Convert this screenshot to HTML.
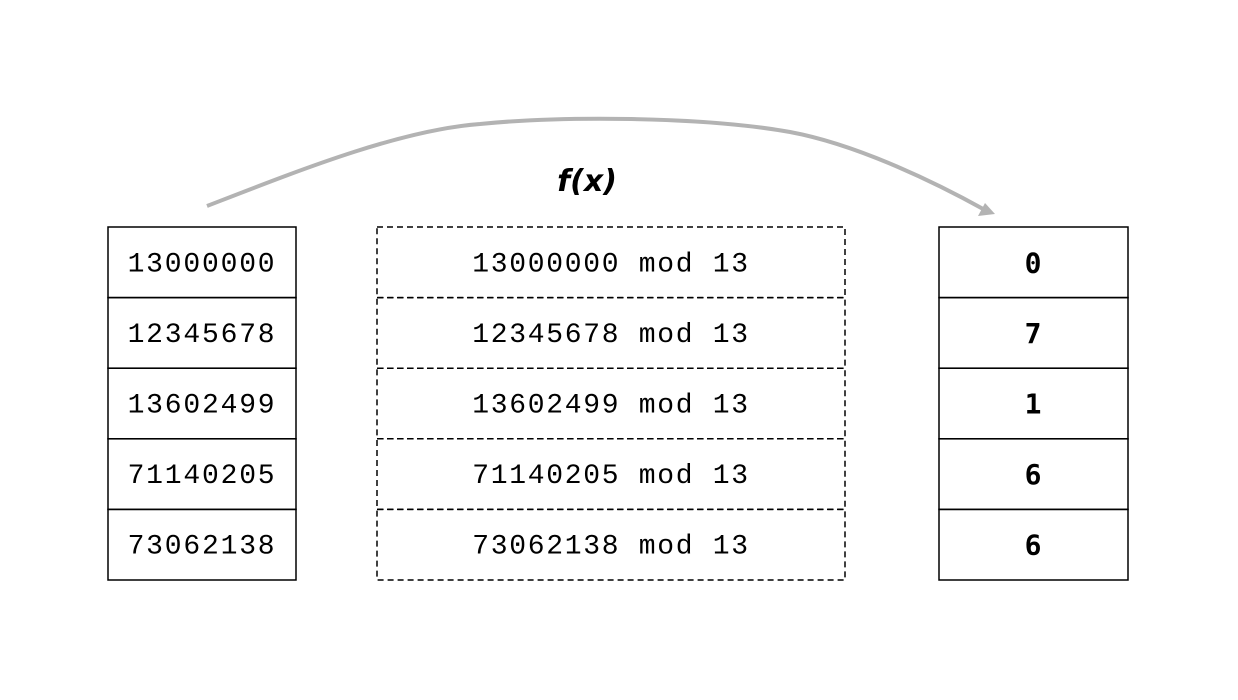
<!DOCTYPE html>
<html><head><meta charset="utf-8"><style>body{margin:0;background:#fff}svg{display:block}</style></head>
<body>
<svg width="1238" height="700" viewBox="0 0 1238 700">
<path d="M207,206 C300,170 400,130 480,124 C560,116 700,116 790,132 C860,145 940,185 985,210" fill="none" stroke="#b3b3b3" stroke-width="4"/>
<polygon points="995,214 978,216 985,203" fill="#b3b3b3"/>
<text x="587" y="191" text-anchor="middle" font-family="'DejaVu Sans',sans-serif" font-size="30" font-weight="bold" font-style="italic">f(x)</text>
<g id="rows"></g>
</svg>
<script>
const keys=["13000000","12345678","13602499","71140205","73062138"];
const results=["0","7","1","6","6"];
const g=document.getElementById('rows');
const NS="http://www.w3.org/2000/svg";
const top0=227,h=70.6;
function el(t,a){const e=document.createElementNS(NS,t);for(const k in a)e.setAttribute(k,a[k]);g.appendChild(e);return e;}
keys.forEach((k,i)=>{
 const y=top0+i*h;
 const a=el('rect',{x:108,y:y,width:188,height:h,fill:'none',stroke:'#000','stroke-width':1.5});
 
 
 const t=el('text',{x:202,y:y+h/2+9,'text-anchor':'middle','font-family':"'Liberation Mono',monospace",'font-size':28,'letter-spacing':1.8});
 t.textContent=k;
 
 
 const b=el('rect',{x:377,y:y,width:468,height:h,fill:'none',stroke:'#000','stroke-width':1.5,'stroke-dasharray':'6,4'});
 
 
 const m=el('text',{x:611,y:y+h/2+9,'text-anchor':'middle','font-family':"'Liberation Mono',monospace",'font-size':28,'letter-spacing':1.7});
 m.textContent=k+' mod 13';
 
 
 const c=el('rect',{x:939,y:y,width:189,height:h,fill:'none',stroke:'#000','stroke-width':1.5});
 
 
 const r=el('text',{x:1033,y:y+h/2+10,'text-anchor':'middle','font-family':"'DejaVu Sans Mono',monospace",'font-size':28,'font-weight':'bold'});
 r.textContent=results[i];
 
 
});
</script>
</body></html>
